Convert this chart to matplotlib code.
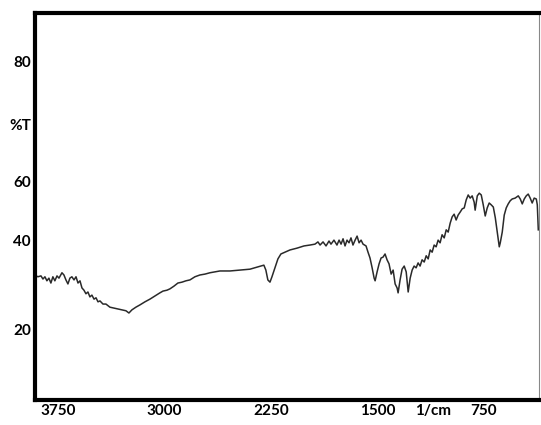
import numpy as np
import matplotlib
matplotlib.use("Agg")
import matplotlib.pyplot as plt

plt.rcParams['font.family'] = ['Lato', 'DejaVu Sans']

# spectrum: wavenumber (1/cm) and %T
wavenumber = [3914, 3893, 3871, 3857, 3843, 3829, 3815, 3801, 3787, 3773, 3758, 3744,
              3723, 3709, 3695, 3681, 3667, 3653, 3638, 3624, 3610, 3596, 3582, 3568,
              3554, 3540, 3526, 3512, 3497, 3483, 3469, 3455, 3434, 3413, 3385, 3357,
              3328, 3300, 3272, 3251, 3230, 3202, 3174, 3138, 3103, 3068, 3033, 3011,
              2983, 2962, 2934, 2906, 2877, 2849, 2821, 2786, 2751, 2715, 2680, 2645,
              2610, 2539, 2469, 2398, 2342, 2300, 2286, 2272, 2257, 2243, 2222, 2201,
              2180, 2151, 2116, 2067, 2017, 1975, 1940, 1919, 1904, 1883, 1862, 1841,
              1827, 1806, 1785, 1770, 1756, 1742, 1728, 1714, 1700, 1686, 1672, 1657,
              1643, 1629, 1615, 1601, 1580, 1566, 1552, 1537, 1523, 1516, 1502, 1488,
              1474, 1460, 1446, 1432, 1418, 1403, 1389, 1375, 1361, 1354, 1340, 1326,
              1311, 1297, 1283, 1269, 1255, 1241, 1227, 1213, 1199, 1185, 1170, 1156,
              1142, 1128, 1114, 1100, 1086, 1072, 1058, 1044, 1029, 1015, 1001, 987,
              973, 959, 945, 931, 916, 902, 888, 874, 860, 846, 832, 818, 811, 796,
              782, 768, 754, 740, 726, 712, 698, 683, 669, 655, 641, 634, 620, 606,
              592, 578, 564, 550, 529, 507, 493, 479, 465, 451, 437, 423, 409, 395,
              380, 373, 366]
transmittance = [32.3, 31.9, 32.1, 31.4, 31.9, 31.0, 31.6, 30.5, 31.9, 31.0, 32.1, 31.6,
                 32.8, 32.3, 31.2, 30.3, 31.6, 31.9, 31.2, 31.9, 30.5, 31.0, 29.4, 28.9,
                 28.1, 28.5, 27.4, 27.8, 26.9, 27.2, 26.3, 26.5, 25.8, 25.8, 25.1, 24.9,
                 24.7, 24.5, 24.3, 23.8, 24.5, 25.1, 25.6, 26.3, 26.9, 27.6, 28.3, 28.7,
                 28.9, 29.2, 29.8, 30.5, 30.7, 31.0, 31.2, 31.9, 32.3, 32.5, 32.8, 33.0,
                 33.2, 33.2, 33.4, 33.6, 34.1, 34.5, 33.4, 31.2, 30.7, 31.9, 33.9, 35.9,
                 37.0, 37.4, 37.9, 38.3, 38.8, 39.0, 39.2, 39.7, 39.0, 39.7, 38.8, 39.9,
                 39.2, 40.1, 39.0, 40.1, 39.2, 40.4, 38.8, 40.1, 39.5, 40.6, 39.0, 40.1,
                 41.0, 39.5, 40.1, 39.2, 38.8, 37.4, 36.1, 33.9, 31.6, 31.0, 33.0, 34.8,
                 36.1, 36.3, 37.0, 35.7, 34.8, 32.5, 33.4, 30.3, 29.4, 28.3, 31.2, 33.6,
                 34.3, 33.0, 28.5, 31.6, 33.4, 34.3, 33.9, 35.0, 34.3, 35.7, 35.2, 36.6,
                 35.9, 37.9, 37.4, 39.0, 38.6, 40.1, 39.5, 41.3, 40.6, 42.4, 41.9, 43.9,
                 45.3, 45.9, 44.6, 45.7, 46.4, 47.1, 47.3, 49.1, 50.2, 49.5, 50.0, 48.6,
                 46.8, 50.0, 50.6, 50.2, 48.0, 45.5, 47.3, 48.4, 48.0, 47.5, 45.1, 41.9,
                 38.6, 39.5, 41.9, 45.7, 47.3, 48.2, 48.9, 49.3, 49.5, 50.0, 49.3, 48.2,
                 49.3, 50.0, 50.4, 49.5, 48.4, 49.5, 49.3, 48.0, 42.4]

x_ticks = [3750, 3000, 2250, 1500, 1108, 750]
x_labels = ['3750', '3000', '2250', '1500', '1/cm', '750']
y_ticks = [80, 65.9, 53.1, 40, 20]
y_labels = ['80', '%T', '60', '40', '20']

fig = plt.figure(figsize=(5.41, 4.25), dpi=100)
ax = fig.add_axes([35 / 541, 1 - 400 / 425, 504 / 541, 387 / 425])

ax.plot(wavenumber, transmittance, color='#2a2a2a', lw=1.1)

ax.set_xlim(3913, 361)
ax.set_ylim(4.34, 90.9)
ax.set_xticks(x_ticks)
ax.set_xticklabels(x_labels)
ax.set_yticks(y_ticks)
ax.set_yticklabels(y_labels)
ax.tick_params(length=0, labelsize=11, pad=3)
for lab in ax.get_xticklabels() + ax.get_yticklabels():
    lab.set_fontweight('bold')

for side in ['left', 'top', 'bottom']:
    ax.spines[side].set_linewidth(3)
    ax.spines[side].set_color('black')
ax.spines['right'].set_linewidth(0.8)
ax.spines['right'].set_color('#888888')

fig.savefig('out.png', dpi=100)
